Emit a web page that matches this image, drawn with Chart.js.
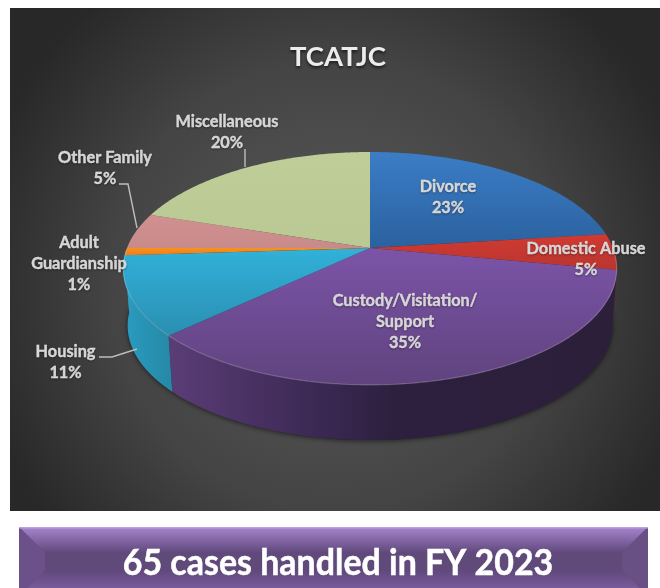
<!DOCTYPE html>
<html><head><meta charset="utf-8">
<style>html,body{margin:0;padding:0;background:#fff}canvas{display:block}</style>
<script src="https://cdn.jsdelivr.net/npm/chart.js@4"></script>
</head><body>
<div style="width:660px;height:588px"><canvas id="c" width="660" height="588"></canvas></div>
<script>
const categories = ["Divorce","Domestic Abuse","Custody/Visitation/ Support","Housing","Adult Guardianship","Other Family","Miscellaneous"];
const shares = [23,5,35,11,1,5,20];
const chartTitle = "TCATJC";
const bannerText = "65 cases handled in FY 2023";
const labelLines = [["Divorce"],["Domestic Abuse"],["Custody/Visitation/","Support"],["Housing"],["Adult","Guardianship"],["Other Family"],["Miscellaneous"]];

const topColors = [["#3b7dc6","#2b619f"],["#d03a32","#b9352f"],["#7c54a8","#5f437e"],["#31b1da","#2a8fb0"],["#f8921e","#ec7f1b"],["#d09090","#c98a8a"],["#bfcd98","#bac894"]];
const sideStops = [[[0,"#2b5d98"],[1,"#234c80"]],[[0,"#8f2822"],[1,"#7d221d"]],
  [[0,"#5a3d76"],[0.29,"#3f2b58"],[0.5,"#2d203f"],[1,"#2c1f3a"]],
  [[0,"#2a9cc0"],[1,"#2688a6"]],[[0,"#2a9cc0"],[1,"#2a9cc0"]],[[0,"#96686a"],[1,"#8a5f60"]],[[0,"#87925f"],[1,"#7d8858"]]];
const labelAnchors = [[448,187],[586,249],[405,301],[65.5,352],[79,243],[105,158],[227,122]];
const leaders = [null,null,null,[[99,357],[112,357],[137,349]],null,[[119,184],[128,184],[137,228]],[[245,149],[245,167]]];

// projective view of the pie's disc: near side larger than far side
const K=0.176,A=243,B=112.9,CX=370,CY=248;
const project=(a,s,dy)=>{const u=Math.cos(a),v=Math.sin(a),w=1-K*v;return [CX+s*A*u/w,CY+dy+s*B*v/w];};
const DS=0.982,DY=57.5;

const pie3d={
 id:'pie3d',
 beforeDraw(chart){
  const g=chart.ctx,W=chart.width,H=chart.height;
  g.save();
  g.fillStyle="#fff";g.fillRect(0,0,W,H);
  g.save();
  g.beginPath();g.rect(10,8,650,503);g.clip();
  g.translate(335,285);
  const bg=g.createRadialGradient(0,0,10,0,0,370);
  bg.addColorStop(0,"#5a5a5a");bg.addColorStop(0.6,"#444444");bg.addColorStop(1,"#282828");
  g.fillStyle=bg;g.fillRect(-400,-400,800,800);
  g.restore();
  // banner
  const L=19,R=648,T=527,Bt=596,D=26;
  const tg=g.createLinearGradient(0,T,0,T+D);
  tg.addColorStop(0,"#a585cd");tg.addColorStop(1,"#60487c");
  const bb=g.createLinearGradient(0,Bt-D,0,Bt);
  bb.addColorStop(0,"#60487c");bb.addColorStop(1,"#8263a8");
  g.fillStyle="#5f4a7a";g.fillRect(L,T,R-L,Bt-T);
  g.fillStyle=tg;g.beginPath();g.moveTo(L,T);g.lineTo(R,T);g.lineTo(R-D,T+D);g.lineTo(L+D,T+D);g.closePath();g.fill();
  g.fillStyle=bb;g.beginPath();g.moveTo(L,Bt);g.lineTo(R,Bt);g.lineTo(R-D,Bt-D);g.lineTo(L+D,Bt-D);g.closePath();g.fill();
  g.fillStyle="#6b5089";g.beginPath();g.moveTo(L,T);g.lineTo(L+D,T+D);g.lineTo(L+D,Bt-D);g.lineTo(L,Bt);g.closePath();g.fill();
  g.fillStyle="#684f84";g.beginPath();g.moveTo(R,T);g.lineTo(R-D,T+D);g.lineTo(R-D,Bt-D);g.lineTo(R,Bt);g.closePath();g.fill();
  g.fillStyle="#bd9fe2";g.fillRect(L,T,R-L,1.5);
  g.restore();
 },
 beforeDatasetsDraw(chart){
  const g=chart.ctx,arcs=chart.getDatasetMeta(0).data;
  // shadow under the pie
  g.save();
  g.shadowColor="rgba(0,0,0,0.55)";g.shadowBlur=5;g.shadowOffsetY=1;g.fillStyle="#222";
  g.beginPath();
  for(let i=0;i<=180;i++){const p=project(i*Math.PI/90,DS,DY);i?g.lineTo(p[0],p[1]):g.moveTo(p[0],p[1]);}
  g.closePath();g.fill();
  g.restore();
  // near-side wall of each slice
  arcs.forEach((el,i)=>{
    const a0=Math.max(el.startAngle,0),a1=Math.min(el.endAngle,Math.PI);
    if(a1<=a0)return;
    const n=Math.max(2,Math.ceil((a1-a0)/0.01)),up=[],dn=[];
    for(let k=0;k<=n;k++){const a=a0+(a1-a0)*k/n;up.push(project(a,1,0));dn.push(project(a,DS,DY));}
    const xs=up.concat(dn).map(p=>p[0]),x0=Math.min(...xs),x1=Math.max(...xs);
    const gr=g.createLinearGradient(x0,0,x1+0.01,0);
    sideStops[i].forEach(s=>gr.addColorStop(s[0],s[1]));
    g.fillStyle=gr;g.beginPath();
    up.forEach((p,j)=>j?g.lineTo(p[0],p[1]):g.moveTo(p[0],p[1]));
    dn.reverse().forEach(p=>g.lineTo(p[0],p[1]));
    g.closePath();g.fill();
  });
  // top faces
  arcs.forEach((el,i)=>{
    const n=Math.max(4,Math.ceil((el.endAngle-el.startAngle)/0.01));
    let minY=CY,maxY=CY;
    g.beginPath();g.moveTo(CX,CY);
    for(let k=0;k<=n;k++){const p=project(el.startAngle+(el.endAngle-el.startAngle)*k/n,1,0);g.lineTo(p[0],p[1]);minY=Math.min(minY,p[1]);maxY=Math.max(maxY,p[1]);}
    g.closePath();
    const gr=g.createLinearGradient(0,minY,0,maxY+0.01);
    gr.addColorStop(0,topColors[i][0]);gr.addColorStop(1,topColors[i][1]);
    g.fillStyle=gr;g.fill();
  });
  // light rim on the near edge
  g.strokeStyle="rgba(255,255,255,0.2)";g.lineWidth=1.2;
  g.beginPath();
  for(let k=0;k<=300;k++){const p=project(0.05+(Math.PI-0.07)*k/300,0.999,0);k?g.lineTo(p[0],p[1]):g.moveTo(p[0],p[1]);}
  g.stroke();
  // leader lines
  g.strokeStyle="#bdbdbd";g.lineWidth=1.4;
  leaders.forEach(l=>{if(!l)return;g.beginPath();l.forEach((p,j)=>j?g.lineTo(p[0],p[1]):g.moveTo(p[0],p[1]));g.stroke();});
  // labels
  g.textAlign="center";g.textBaseline="middle";
  g.shadowColor="rgba(0,0,0,0.35)";g.shadowBlur=2;g.shadowOffsetY=1;
  g.font="bold 16.3px Lato";g.fillStyle="#e2e2e2";g.strokeStyle="#e2e2e2";g.lineWidth=0.35;
  labelLines.forEach((ls,i)=>{
    ls.concat([shares[i]+"%"]).forEach((t,j)=>{
      const x=labelAnchors[i][0],y=labelAnchors[i][1]+j*21;
      g.fillText(t,x,y);g.strokeText(t,x,y);
    });
  });
  g.font="bold 27.5px Lato";g.fillStyle="#ececec";
  g.shadowColor="rgba(0,0,0,0.6)";g.shadowBlur=3;g.shadowOffsetY=2;
  g.fillText(chartTitle,338,57);
  g.shadowColor="transparent";g.shadowBlur=0;g.shadowOffsetY=0;
  g.fillStyle="#ffffff";g.strokeStyle="#ffffff";g.lineWidth=0.5;
  g.save();g.translate(338,563);g.scale(0.93,1);g.font="bold 36.5px Lato";g.fillText(bannerText,0,0);g.strokeText(bannerText,0,0);g.restore();
  return false;
 }
};
new Chart(document.getElementById('c'),{
 type:'pie',
 data:{labels:categories,datasets:[{data:shares,backgroundColor:topColors.map(c=>c[0]),borderWidth:0}]},
 options:{responsive:false,animation:false,
  plugins:{legend:{display:false},tooltip:{enabled:false},title:{display:false}}},
 plugins:[pie3d]
});
</script>
</body></html>
